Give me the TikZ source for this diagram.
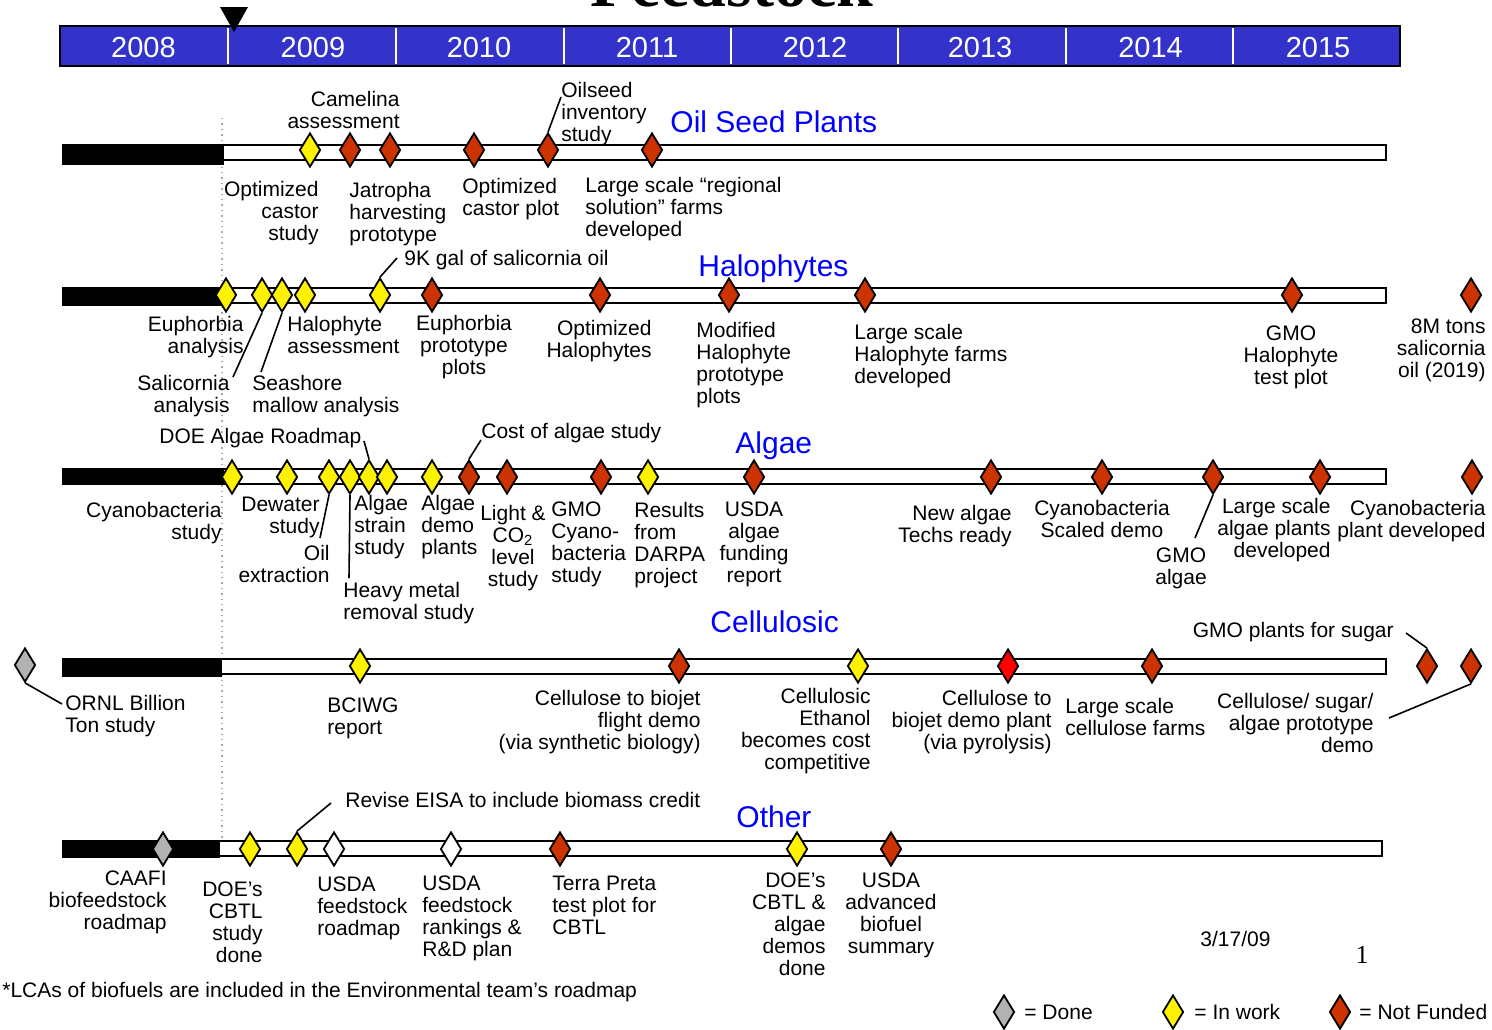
\documentclass[tikz,border=0pt]{standalone}
\usepackage{fontspec}
\setmainfont{Liberation Sans}
\newfontfamily\serifT{Liberation Serif}
\usetikzlibrary{shapes.geometric}
\definecolor{hdrblue}{HTML}{3333CC}
\definecolor{ttlblue}{HTML}{0000FF}
\definecolor{nfred}{HTML}{CC3300}
\definecolor{donegray}{HTML}{B2B2B2}
\newcommand{\bodyfont}{\fontsize{10.5}{11}\selectfont}
\begin{document}
\begin{tikzpicture}[x=0.5pt,y=-0.5pt,
  lbl/.style={inner sep=0pt, font=\bodyfont, execute at begin node=\strut},
  lblL/.style={lbl, anchor=north west, align=left},
  lblR/.style={lbl, anchor=north east, align=right},
  lblC/.style={lbl, anchor=north, align=center},
  yr/.style={text=white, font=\fontsize{14.5}{14.5}\selectfont, anchor=base, inner sep=0pt},
  ttl/.style={text=ttlblue, font=\fontsize{15}{15}\selectfont, anchor=base west, inner sep=0pt},
  dia/.style={diamond, draw=black, line width=0.9pt, inner sep=0pt, minimum width=10.5pt, minimum height=17pt},
  dy/.style={dia, fill=yellow},
  dr/.style={dia, fill=nfred},
  dbr/.style={dia, fill=red},
  dg/.style={dia, fill=donegray},
  dw/.style={dia, fill=white},
  barw/.style={draw=black, line width=0.75pt, fill=white},
  barb/.style={fill=black},
  ldr/.style={draw=black, line width=0.8pt}]
\useasboundingbox (0,0) rectangle (1492,1029);

% title (cropped at top)
\node[font=\serifT\bfseries\fontsize{33}{33}\selectfont, anchor=base, inner sep=0pt] (title) at (732,6) {Feedstock};

% header bar
\draw[fill=hdrblue, line width=1.2pt] (60,26) rectangle (1400,66);
\foreach \xx in {228,396,564,731,898,1066,1233}
  \draw[white, line width=1.2pt] (\xx,28) -- (\xx,64);
\node[yr] (y2008) at (143.5,57) {2008};
\node[yr] (y2009) at (313,57) {2009};
\node[yr] (y2010) at (479,57) {2010};
\node[yr] (y2011) at (647,57) {2011};
\node[yr] (y2012) at (815,57) {2012};
\node[yr] (y2013) at (980,57) {2013};
\node[yr] (y2014) at (1150.5,57) {2014};
\node[yr] (y2015) at (1318,57) {2015};
\fill[black] (220,7) -- (248,7) -- (234,32) -- cycle;

% today line
\draw[black!35, dotted, line width=0.7pt] (222,118) -- (222,842);

% ===== Row 1: Oil Seed Plants =====
\draw[barw] (222,145) rectangle (1386,160);
\fill[barb] (62,144) rectangle (224,165);
\node[ttl] (t1) at (670,132) {Oil Seed Plants};
\node[dy] (o1) at (310,150) {};
\node[dr] (o2) at (350,150) {};
\node[dr] (o3) at (390,150) {};
\node[dr] (o4) at (474,150) {};
\node[dr] (o5) at (548,150) {};
\node[dr] (o6) at (652,150) {};
\node[lblR] (camelina) at (400,90.6) {Camelina\\assessment};
\node[lblR] (optcastor) at (319,180.6) {Optimized\\castor\\study};
\node[lblL] (jatropha) at (349,181.6) {Jatropha\\harvesting\\prototype};
\node[lblL] (optplot) at (462,177.6) {Optimized\\castor plot};
\node[lblL] (oilseed) at (561,81.6) {Oilseed\\inventory\\study};
\node[lblL] (regional) at (585,176.6) {Large scale “regional\\solution” farms\\developed};
\coordinate (k1) at (561,97);
\draw[ldr] (o5.north) -- (k1);

% ===== Row 2: Halophytes =====
\draw[barw] (222,288) rectangle (1386,303);
\fill[barb] (62,287) rectangle (224,306);
\node[ttl] (t2) at (698,276) {Halophytes};
\node[dy] (h1) at (226,295) {};
\node[dy] (h2) at (262,295) {};
\node[dy] (h3) at (282,295) {};
\node[dy] (h4) at (305,295) {};
\node[dy] (h5) at (380,295) {};
\node[dr] (h6) at (432,295) {};
\node[dr] (h7) at (600,295) {};
\node[dr] (h8) at (729,295) {};
\node[dr] (h9) at (865,295) {};
\node[dr] (h10) at (1292,295) {};
\node[dr] (h11) at (1471,295) {};
\node[lblL] (ninek) at (404,249.6) {9K gal of salicornia oil};
\node[lblR] (euphan) at (244,316.3) {Euphorbia\\analysis};
\node[lblR] (salican) at (230,374.6) {Salicornia\\analysis};
\node[lblL] (seashore) at (252,374.6) {Seashore\\mallow analysis};
\node[lblL] (halassess) at (287,316.3) {Halophyte\\assessment};
\node[lblC] (euphproto) at (464,314.6) {Euphorbia\\prototype\\plots};
\node[lblR] (opthalo) at (652,319.6) {Optimized\\Halophytes};
\node[lblL] (modhalo) at (696,321.6) {Modified\\Halophyte\\prototype\\plots};
\node[lblL] (largehalo) at (854,323.6) {Large scale\\Halophyte farms\\developed};
\node[lblC] (gmohalo) at (1291,325.6) {GMO\\Halophyte\\test plot};
\node[lblR] (eightm) at (1486,318.6) {8M tons\\salicornia\\oil (2019)};
\coordinate (k2) at (397,258);
\draw[ldr] (h5.north) -- (k2);
\coordinate (k3) at (233,377);
\draw[ldr] (h2.south) -- (k3);
\coordinate (k4) at (261,372);
\draw[ldr] (h3.south) -- (k4);

% ===== Row 3: Algae =====
\draw[barw] (222,469) rectangle (1386,484);
\fill[barb] (62,468) rectangle (224,485);
\node[ttl] (t3) at (735,453) {Algae};
\node[dy] (a1) at (232,477) {};
\node[dy] (a2) at (287,477) {};
\node[dy] (a3) at (329,477) {};
\node[dy] (a4) at (350,477) {};
\node[dy] (a5) at (369,477) {};
\node[dy] (a6) at (387,477) {};
\node[dy] (a7) at (432,477) {};
\node[dr] (a8) at (469,477) {};
\node[dr] (a9) at (507,477) {};
\node[dr] (a10) at (601,477) {};
\node[dy] (a11) at (648,477) {};
\node[dr] (a12) at (754,477) {};
\node[dr] (a13) at (991,477) {};
\node[dr] (a14) at (1102,477) {};
\node[dr] (a15) at (1213,477) {};
\node[dr] (a16) at (1320,477) {};
\node[dr] (a17) at (1472,477) {};
\node[lblL] (doeroad) at (159,427.6) {DOE Algae Roadmap};
\node[lblL] (costalgae) at (481,422.6) {Cost of algae study};
\node[lblR] (cyano) at (222,501.6) {Cyanobacteria\\study};
\node[lblR] (dewater) at (320,496.6) {Dewater\\study};
\node[lblR] (oilext) at (330,544.6) {Oil\\extraction};
\node[lblL] (strain) at (354,494.6) {Algae\\strain\\study};
\node[lblL] (heavy) at (343,581.6) {Heavy metal\\removal study};
\node[lblL] (demo) at (421,494.6) {Algae\\demo\\plants};
\node[lblC] (light) at (513,504.6) {Light \&\\CO\textsubscript{2}\\level\\study};
\node[lblL] (gmocyano) at (551,501.6) {GMO\\Cyano-\\bacteria\\study};
\node[lblL] (darpa) at (634,501.6) {Results\\from\\DARPA\\project};
\node[lblC] (usdaalgae) at (754,501.6) {USDA\\algae\\funding\\report};
\node[lblR] (newalgae) at (1012,504.6) {New algae\\Techs ready};
\node[lblC] (cyanoscaled) at (1102,499.6) {Cyanobacteria\\Scaled demo};
\node[lblC] (gmoalgae) at (1181,547.6) {GMO\\algae};
\node[lblR] (largealgae) at (1331,497.6) {Large scale\\algae plants\\developed};
\node[lblR] (cyanoplant) at (1486,499.6) {Cyanobacteria\\plant developed};
\coordinate (k5) at (364,441);
\draw[ldr] (k5) -- (a5.north);
\coordinate (k6) at (481,440);
\draw[ldr] (k6) -- (a8.north);
\coordinate (k7) at (320,538);
\draw[ldr] (a3.south) -- (k7);
\coordinate (k8) at (349,578);
\draw[ldr] (a4.south) -- (k8);
\coordinate (k9) at (1195,538);
\draw[ldr] (a15.south) -- (k9);

% ===== Row 4: Cellulosic =====
\draw[barw] (220,659) rectangle (1386,674);
\fill[barb] (62,658) rectangle (222,677);
\node[ttl] (t4) at (710,632) {Cellulosic};
\node[dg] (c0) at (25,665) {};
\node[dy] (c1) at (360,666) {};
\node[dr] (c2) at (679,666) {};
\node[dy] (c3) at (858,666) {};
\node[dbr] (c4) at (1008,666) {};
\node[dr] (c5) at (1152,666) {};
\node[dr] (c6) at (1427,666) {};
\node[dr] (c7) at (1471,666) {};
\node[lblL] (ornl) at (65,694.6) {ORNL Billion\\Ton study};
\node[lblL] (bciwg) at (327,697.6) {BCIWG\\report};
\node[lblR] (cellflight) at (701,689.6) {Cellulose to biojet\\flight demo\\(via synthetic biology)};
\node[lblR] (cellethanol) at (871,687.6) {Cellulosic\\Ethanol\\becomes cost\\competitive};
\node[lblR] (cellpyro) at (1052,689.6) {Cellulose to\\biojet demo plant\\(via pyrolysis)};
\node[lblL] (largecell) at (1065,697.6) {Large scale\\cellulose farms};
\node[lblR] (gmosugar) at (1394,621.6) {GMO plants for sugar};
\node[lblR] (cellsugar) at (1374,692.6) {Cellulose/ sugar/\\algae prototype\\demo};
\coordinate (k10) at (62,704);
\draw[ldr] (c0.south) -- (k10);
\coordinate (k11) at (1406,633);
\draw[ldr] (k11) -- (c6.north);
\coordinate (k12) at (1389,718);
\draw[ldr] (k12) -- (c7.south);

% ===== Row 5: Other =====
\draw[barw] (218,841) rectangle (1382,856);
\fill[barb] (62,840) rectangle (220,858);
\node[ttl] (t5) at (736,827) {Other};
\node[dg] (r1) at (163,849) {};
\node[dy] (r2) at (250,849) {};
\node[dy] (r3) at (297,849) {};
\node[dw] (r4) at (334,849) {};
\node[dw] (r5) at (451,849) {};
\node[dr] (r6) at (560,849) {};
\node[dy] (r7) at (797,849) {};
\node[dr] (r8) at (891,849) {};
\node[lblL] (revise) at (345,791.6) {Revise EISA to include biomass credit};
\node[lblR] (caafi) at (167,870.6) {CAAFI\\biofeedstock\\roadmap};
\node[lblR] (doecbtl) at (263,881.6) {DOE’s\\CBTL\\study\\done};
\node[lblL] (usdaroad) at (317,876.6) {USDA\\feedstock\\roadmap};
\node[lblL] (usdarank) at (422,875.6) {USDA\\feedstock\\rankings \&\\R\&D plan};
\node[lblL] (terra) at (552,875.6) {Terra Preta\\test plot for\\CBTL};
\node[lblR] (doealgae) at (826,872.6) {DOE’s\\CBTL \&\\algae\\demos\\done};
\node[lblC] (usdaadv) at (891,872.6) {USDA\\advanced\\biofuel\\summary};
\coordinate (k13) at (331,803);
\draw[ldr] (r3.north) -- (k13);

% ===== footer =====
\node[lblL] (lca) at (2,981.6) {*LCAs of biofuels are included in the Environmental team’s roadmap};
\node[lblL] (date) at (1200,930.6) {3/17/09};
\node[font=\serifT\fontsize{13}{13}\selectfont, anchor=base, inner sep=0pt] (pgnum) at (1362,963) {1};
\node[dg] (lg1) at (1004,1012) {};
\node[lblL] (lgt1) at (1024,1003.6) {= Done};
\node[dy] (lg2) at (1173,1012) {};
\node[lblL] (lgt2) at (1194,1003.6) {= In work};
\node[dr] (lg3) at (1340,1012) {};
\node[lblL] (lgt3) at (1359,1003.6) {= Not Funded};
\end{tikzpicture}
\end{document}
